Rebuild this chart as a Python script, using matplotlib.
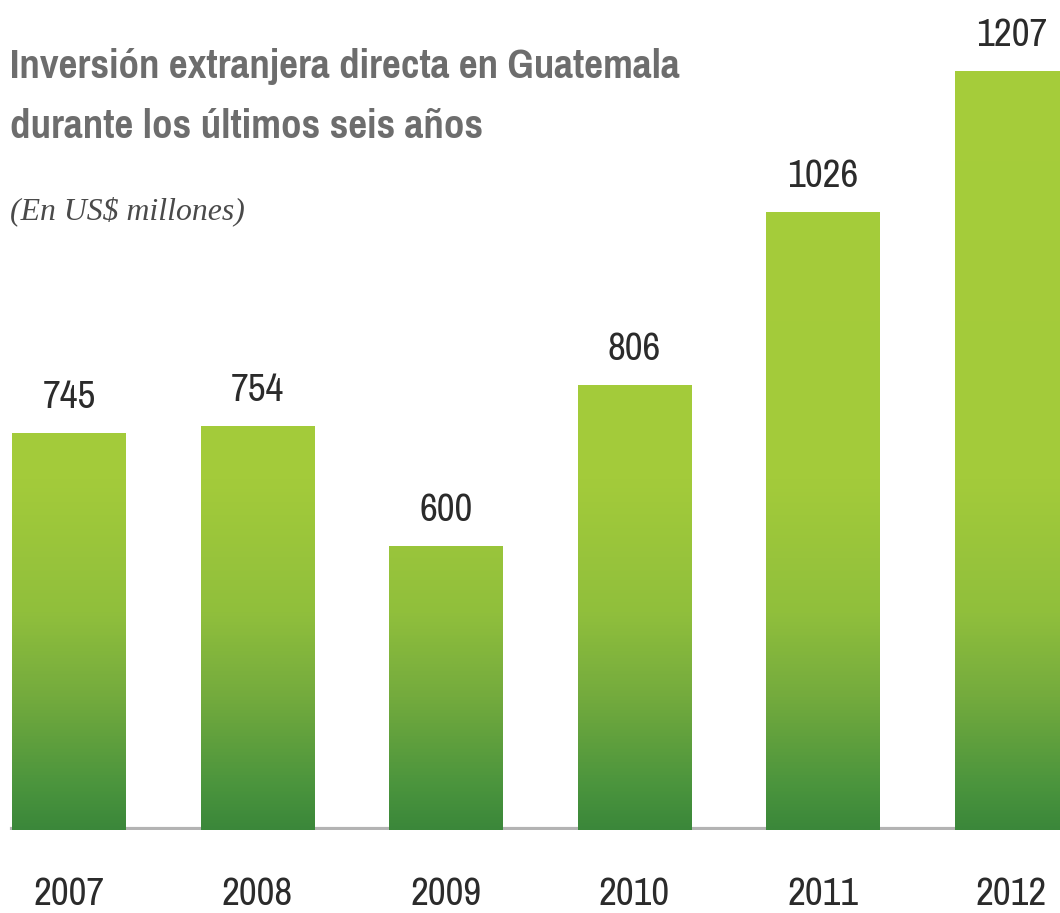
import os
import numpy as np
import matplotlib
matplotlib.use("Agg")
import matplotlib.pyplot as plt
from matplotlib import font_manager as fm
from matplotlib.colors import LinearSegmentedColormap

years = ["2007", "2008", "2009", "2010", "2011", "2012"]
values = [745, 754, 600, 806, 1026, 1207]

title1 = "Inversión extranjera directa en Guatemala"
title2 = "durante los últimos seis años"
subtitle = "(En US$ millones)"

fig = plt.figure(figsize=(10.6, 9.13), dpi=100)
ax = fig.add_axes([0, 0.0909, 1, 0.9091])
renderer = fig.canvas.get_renderer()


def weight_num(w):
    if isinstance(w, str):
        return {"bold": 700, "semibold": 600, "light": 300, "normal": 400,
                "regular": 400, "medium": 500, "black": 900,
                "heavy": 900}.get(w, 400)
    return w


def text_width(fp, text):
    t = fig.text(0, 0, text, fontproperties=fp)
    wd = t.get_window_extent(renderer).width
    t.remove()
    return wd


def best_face(text, size, target_w, wmin, wmax):
    # condensed sans face (not monospaced) whose width at this size is
    # closest to the width seen in the reference
    best, best_d = None, 1e9
    for f in fm.fontManager.ttflist:
        base = os.path.basename(f.fname).lower()
        nm = f.name.lower()
        if not ("cond" in base or "narrow" in base or "cond" in nm or "narrow" in nm):
            continue
        if f.style != "normal" or "mono" in base or "mono" in nm:
            continue
        if "serif" in base or "serif" in nm:
            continue
        if not (wmin <= weight_num(f.weight) <= wmax):
            continue
        fp = fm.FontProperties(fname=f.fname, size=size)
        try:
            if abs(text_width(fp, "iiii") - text_width(fp, "mmmm")) < 2:
                continue
            d = abs(text_width(fp, text) - target_w)
        except Exception:
            continue
        if d < best_d:
            best, best_d = (f.fname, f.name), d
    return best


def same_family(name, weight):
    # lighter face of the title's family for the numbers
    best, best_d = None, 1e9
    for f in fm.fontManager.ttflist:
        if f.name != name or f.style != "normal":
            continue
        d = abs(weight_num(f.weight) - weight)
        if d < best_d:
            best, best_d = f.fname, d
    return best


def fit_size(fp, text, target_w, target_h):
    # compromise between width-fit and cap-height-fit (px ~ pt at 100 dpi)
    wf = fp.get_size() * target_w / text_width(fp, text)
    return wf ** 0.3 * target_h ** 0.7


found = best_face(title1, 32, 670, 600, 1000)
if found:
    ttl_fp = fm.FontProperties(fname=found[0], size=32)
    num_path = same_family(found[1], 500) or found[0]
    num_fp = fm.FontProperties(fname=num_path, size=34)
else:
    ttl_fp = fm.FontProperties(family="DejaVu Sans", weight="bold", size=32)
    num_fp = fm.FontProperties(family="DejaVu Sans", size=34)

ylo, yhi = 238, 1297

# gradient light yellow-green at top, dark green at bottom
cmap = LinearSegmentedColormap.from_list("g", [
    (0.0, "#3b873a"),
    (0.05, "#4a943d"),
    (0.16, "#74ab3e"),
    (0.26, "#90bf3c"),
    (0.42, "#a3cb3a"),
    (1.0, "#a6cd3b"),
])
grad = np.linspace(0, 1, 512).reshape(-1, 1)

x = np.arange(len(years))
w = 0.6
bars = ax.bar(x, values, width=w, color="none", edgecolor="none")
for b in bars:
    im = ax.imshow(grad, cmap=cmap, origin="lower", aspect="auto",
                   extent=(b.get_x(), b.get_x() + b.get_width(), ylo, yhi),
                   zorder=2)
    im.set_clip_path(b)

ax.set_xlim(-0.366, 5.257)
ax.set_ylim(ylo, yhi)

# baseline
x0 = (x[0] - w / 2 - ax.get_xlim()[0]) / (ax.get_xlim()[1] - ax.get_xlim()[0])
ax.axhline(ylo + 1, xmin=x0, xmax=1, color="#b3b3b3", lw=3, zorder=1)

num_fp.set_size(fit_size(num_fp, "745", 42, 34))
for xi, v in zip(x, values):
    ax.annotate(str(v), (xi, v), xytext=(0, 18), textcoords="offset points",
                ha="center", va="baseline", color="#2b2b2b",
                fontproperties=num_fp)

yr_fp = num_fp.copy()
yr_fp.set_size(fit_size(yr_fp, "2007", 55, 34))
ax.set_xticks([])
for xi, yr in zip(x, years):
    ax.annotate(yr, (xi, ylo), xytext=(0, -75), textcoords="offset pixels",
                ha="center", va="baseline", color="#2b2b2b",
                fontproperties=yr_fp, annotation_clip=False)
ax.set_yticks([])
for s in ax.spines.values():
    s.set_visible(False)

ttl_fp.set_size(np.clip(32 * 670 / text_width(ttl_fp, title1), 24, 34))

H = 913
fig.text(10 / 1060, 1 - 78 / H, title1, ha="left", va="baseline",
         color="#6d6d6d", fontproperties=ttl_fp)
fig.text(10 / 1060, 1 - 138 / H, title2, ha="left", va="baseline",
         color="#6d6d6d", fontproperties=ttl_fp)

sub_fp = fm.FontProperties(family=["Liberation Serif", "DejaVu Serif"],
                           style="italic", size=25)
sub_fp.set_size(sub_fp.get_size() * 235 / text_width(sub_fp, subtitle))
fig.text(10 / 1060, 1 - 219 / H, subtitle, ha="left", va="baseline",
         color="#4a4a4a", fontproperties=sub_fp)

fig.savefig("out.png", dpi=100)
